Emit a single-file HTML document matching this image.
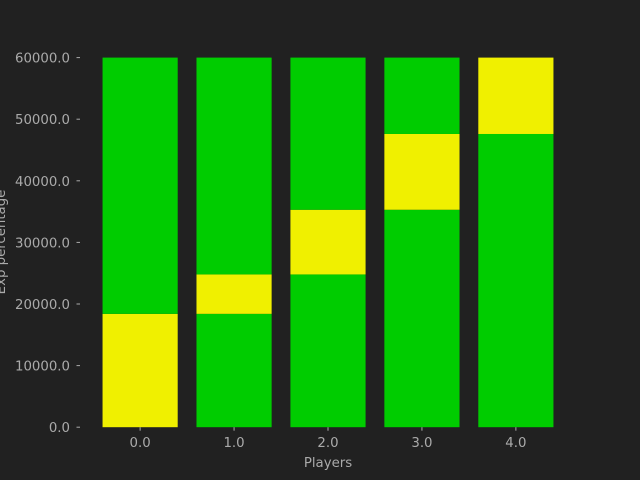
<!DOCTYPE html>
<html><head><meta charset="utf-8"><style>
html,body{margin:0;padding:0;background:#212121;}
svg{display:block;font-family:"DejaVu Sans","Liberation Sans",sans-serif;}
</style></head><body>
<svg id="chart" width="640" height="480" viewBox="0 0 640 480">
<rect width="640" height="480" fill="#212121"/>
<g id="bars"></g>
<g id="axes"></g>
<text x="328" y="467" text-anchor="middle" font-size="13.3" fill="#aaaaaa">Players</text>
<text transform="translate(5,242) rotate(-90)" text-anchor="middle" font-size="13.3" fill="#aaaaaa">Exp percentage</text>
</svg>
<script>
const categories = [0, 1, 2, 3, 4];
const yellowStart = [0, 18400, 24800, 35300, 47600];
const yellowEnd = [18400, 24800, 35300, 47600, 60000];
const total = [60000, 60000, 60000, 60000, 60000];
const yTicks = [0, 10000, 20000, 30000, 40000, 50000, 60000];

const L=80,R=576,T=57.6,B=427.2;
const xmin=-0.64,xmax=4.64,ymax=60000;
const xs=v=>L+(v-xmin)/(xmax-xmin)*(R-L);
const ys=v=>B-v/ymax*(B-T);
const bw=0.8*(R-L)/(xmax-xmin);
const NS="http://www.w3.org/2000/svg";
const bars=document.getElementById('bars');
const axes=document.getElementById('axes');
function rect(x,y0,y1,fill,name){
  const r=document.createElementNS(NS,'rect');
  r.setAttribute('x',x-bw/2);r.setAttribute('width',bw);
  r.setAttribute('y',ys(y1));r.setAttribute('height',ys(y0)-ys(y1));
  r.setAttribute('fill',fill);
  
  
  bars.appendChild(r);
}
categories.forEach((c,i)=>{
  const x=xs(c);
  if(yellowStart[i]>0) rect(x,0,yellowStart[i],'#00cc00','bar-green-lower-'+i);
  rect(x,yellowStart[i],yellowEnd[i],'#f0f000','bar-yellow-'+i);
  if(yellowEnd[i]<total[i]) rect(x,yellowEnd[i],total[i],'#00cc00','bar-green-upper-'+i);
  const t=document.createElementNS(NS,'line');
  t.setAttribute('x1',x);t.setAttribute('x2',x);t.setAttribute('y1',B);t.setAttribute('y2',B+3.5);
  t.setAttribute('stroke','#aaaaaa');
  
  
  axes.appendChild(t);
  const lb=document.createElementNS(NS,'text');
  lb.setAttribute('x',x);lb.setAttribute('y',B+20);lb.setAttribute('text-anchor','middle');
  lb.setAttribute('font-size','13.3');lb.setAttribute('fill','#aaaaaa');
  lb.textContent=c.toFixed(1);
  
  
  axes.appendChild(lb);
});
yTicks.forEach(v=>{
  const y=ys(v);
  const t=document.createElementNS(NS,'line');
  t.setAttribute('x1',L-3.5);t.setAttribute('x2',L);t.setAttribute('y1',y);t.setAttribute('y2',y);
  t.setAttribute('stroke','#aaaaaa');
  
  
  axes.appendChild(t);
  const lb=document.createElementNS(NS,'text');
  lb.setAttribute('x',L-10);lb.setAttribute('y',y+5);lb.setAttribute('text-anchor','end');
  lb.setAttribute('font-size','13.3');lb.setAttribute('fill','#aaaaaa');
  lb.textContent=v.toFixed(1);
  
  
  axes.appendChild(lb);
});
</script>
</body></html>
